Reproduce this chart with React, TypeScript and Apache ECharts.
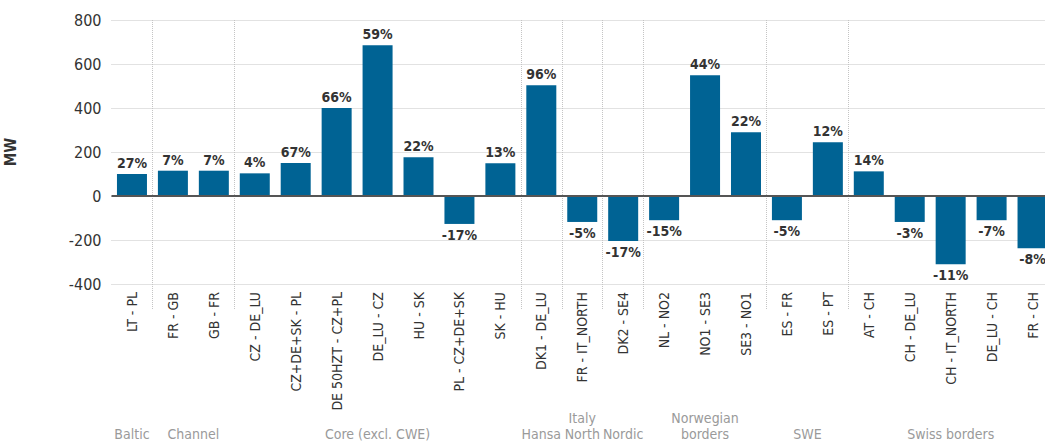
import React, { useEffect, useRef } from "react";
import * as echarts from "echarts";

const categories = [
  "LT - PL", "FR - GB", "GB - FR", "CZ - DE_LU", "CZ+DE+SK - PL", "DE 50HZT - CZ+PL",
  "DE_LU - CZ", "HU - SK", "PL - CZ+DE+SK", "SK - HU", "DK1 - DE_LU", "FR - IT_NORTH",
  "DK2 - SE4", "NL - NO2", "NO1 - SE3", "SE3 - NO1", "ES - FR", "ES - PT", "AT - CH",
  "CH - DE_LU", "CH - IT_NORTH", "DE_LU - CH", "FR - CH",
];
const values = [100, 115, 115, 103, 150, 400, 685, 176, -127, 149, 503, -118, -205, -110, 549, 290, -110, 244, 112, -118, -310, -110, -238];
const pctLabels = ["27%", "7%", "7%", "4%", "67%", "66%", "59%", "22%", "-17%", "13%", "96%", "-5%", "-17%", "-15%", "44%", "22%", "-5%", "12%", "14%", "-3%", "-11%", "-7%", "-8%"];
const groupNames = ["Baltic", "Channel", "Core (excl. CWE)", "Hansa", "Italy\nNorth", "Nordic", "Norwegian\nborders", "SWE", "Swiss borders"];
const groupSizes = [1, 2, 7, 1, 1, 1, 3, 2, 5];
const yMin = -400;
const yMax = 800;
const yStep = 200;

const FONT = "'DejaVu Sans Condensed', 'Liberation Sans', sans-serif";
const BAR = "#006394";
const GRIDC = "#c4c4c4";

const boundaries: number[] = [];
{
  let acc = 0;
  groupSizes.forEach((s, i) => {
    if (i > 0) boundaries.push(acc);
    acc += s;
  });
}

export default function App() {
  const ref = useRef<HTMLDivElement>(null);
  useEffect(() => {
    if (!ref.current) return;
    const chart = echarts.init(ref.current, undefined, { renderer: "svg" });
    const isBoundary = (idx: number) => boundaries.includes(idx);
    chart.setOption({
      animation: false,
      textStyle: { fontFamily: FONT },
      grid: {
        left: 111.5,
        right: -8,
        top: 20,
        bottom: 163,
        containLabel: false,
        outerBoundsMode: "none",
      },
      xAxis: {
        type: "category",
        data: categories,
        position: "bottom",
        axisLine: { show: false },
        axisTick: {
          show: true,
          interval: (i: number) => isBoundary(i),
          length: 114,
          lineStyle: { color: GRIDC, type: "dotted", width: 1 },
        },
        splitLine: {
          show: true,
          interval: (i: number) => isBoundary(i),
          lineStyle: { color: GRIDC, type: "dotted", width: 1 },
        },
        axisLabel: {
          interval: 0,
          rotate: 90,
          margin: 8,
          fontSize: 14,
          color: "#333",
          fontFamily: FONT,
        },
      },
      yAxis: {
        type: "value",
        min: yMin,
        max: yMax,
        interval: yStep,
        name: "MW",
        nameLocation: "middle",
        nameRotate: 90,
        nameGap: 93,
        nameTextStyle: { fontSize: 15, fontWeight: "bold", color: "#333", fontFamily: FONT },
        axisLine: { show: false },
        axisTick: { show: false },
        axisLabel: { fontSize: 16, color: "#333", margin: 10, fontFamily: FONT },
        splitLine: { show: true, lineStyle: { color: GRIDC, type: "dotted", width: 1 } },
      },
      series: [
        {
          type: "bar",
          barWidth: 30,
          itemStyle: { color: BAR },
          data: values.map((v) => ({
            value: v,
            label: { position: v >= 0 ? "top" : "bottom" },
          })),
          label: {
            show: true,
            distance: 4,
            fontSize: 14,
            fontWeight: "bold",
            color: "#333",
            fontFamily: FONT,
            formatter: (p: any) => pctLabels[p.dataIndex],
          },
          markLine: {
            silent: true,
            symbol: "none",
            label: { show: false },
            lineStyle: { color: "#555555", type: "solid", width: 2 },
            data: [{ yAxis: 0 }],
          },
        },
      ],
    });

    const yBottom = chart.convertToPixel({ yAxisIndex: 0 }, yMin) as number;
    const texts: any[] = [];
    let start = 0;
    groupSizes.forEach((s, gi) => {
      const x0 = chart.convertToPixel({ xAxisIndex: 0 }, start) as number;
      const x1 = chart.convertToPixel({ xAxisIndex: 0 }, start + s - 1) as number;
      texts.push({
        type: "text",
        x: (x0 + x1) / 2,
        y: yBottom + 158,
        style: {
          text: groupNames[gi],
          fill: "#9a9a9a",
          fontSize: 14,
          fontFamily: FONT,
          align: "center",
          verticalAlign: "bottom",
          lineHeight: 16,
        },
      });
      start += s;
    });
    chart.setOption({ graphic: texts });

    return () => chart.dispose();
  }, []);
  return (
    <div
      ref={ref}
      style={{ position: "absolute", left: 0, top: 0, width: 1045, height: 447 }}
    />
  );
}
